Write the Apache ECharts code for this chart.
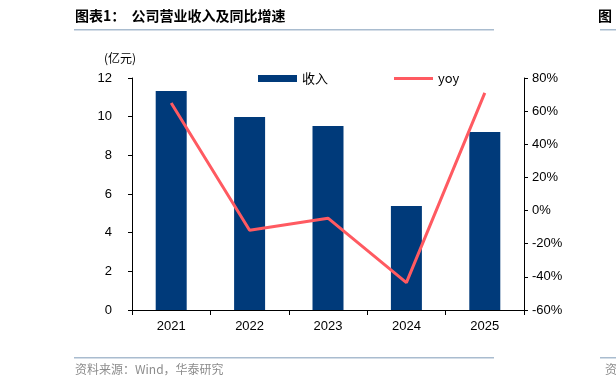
<!DOCTYPE html>
<html><head><meta charset="utf-8">
<script src="https://cdn.jsdelivr.net/npm/echarts@6/dist/echarts.min.js"></script>
<style>html,body{margin:0;padding:0;background:#fff}#c{width:616px;height:389px}</style>
</head><body><div id="c"></div>
<script>
const categories = ['2021','2022','2023','2024','2025'];
const revenue = [11.33, 9.98, 9.52, 5.38, 9.21];
const yoy = [64.9, -11.9, -4.6, -43.5, 71.0];
const leftTicks = [0, 12, 2];
const rightTicks = [-60, 80, 20];

const chart = echarts.init(document.getElementById('c'));
const font = "'Liberation Sans', Arial, sans-serif";
chart.setOption({
  animation: false,
  grid: {left: 132, right: 92, top: 78, bottom: 79},
  legend: {
    top: 67, left: 253, itemGap: 66, itemWidth: 39, itemHeight: 7,
    symbolKeepAspect: true,
    textStyle: {fontFamily: "'Noto Sans CJK SC', " + font, fontSize: 13, color: '#000'},
    data: [{name: '收入', icon: 'rect'}, {name: 'yoy', icon: 'path://M0,0 L39,0 L39,3 L0,3 Z', itemStyle: {color: '#FF5A61'}}]
  },
  xAxis: {
    type: 'category', data: categories,
    axisLine: {lineStyle: {color: '#000'}},
    axisTick: {show: true, length: 5, lineStyle:{color:'#000'}},
    axisLabel: {color: '#000', fontSize: 13, fontFamily: font, margin: 10}
  },
  yAxis: [{
    type: 'value', min: leftTicks[0], max: leftTicks[1], interval: leftTicks[2],
    axisLine: {show: true, lineStyle: {color: '#000'}},
    axisTick: {show: true, length: 4, lineStyle:{color:'#000'}},
    splitLine: {show: false},
    axisLabel: {color: '#000', fontSize: 13, fontFamily: font, margin: 20}
  }, {
    type: 'value', min: rightTicks[0], max: rightTicks[1], interval: rightTicks[2],
    axisLine: {show: true, lineStyle: {color: '#000'}},
    axisTick: {show: true, length: 4, lineStyle:{color:'#000'}},
    splitLine: {show: false},
    axisLabel: {color: '#000', fontSize: 13, fontFamily: font, margin: 8, formatter: '{value}%'}
  }],
  series: [{
    name: '收入', type: 'bar', data: revenue, barWidth: 31,
    itemStyle: {color: '#003A7A'}
  }, {
    name: 'yoy', type: 'line', yAxisIndex: 1, data: yoy,
    symbol: 'none', lineStyle: {color: '#FF5A61', width: 3}, itemStyle:{color:'#FF5A61'}
  }],
  graphic: [
    {type: 'text', left: 75, top: 9, style: {text: '图表1：  公司营业收入及同比增速', font: "bold 14px 'Noto Sans CJK SC'", fill: '#000'}},
    {type: 'text', left: 598, top: 9, style: {text: '图', font: "bold 14px 'Noto Sans CJK SC'", fill: '#000'}},
    {type: 'rect', shape: {x: 74, y: 29, width: 420, height: 1.5}, style: {fill: '#A9BCCF'}},
    {type: 'rect', shape: {x: 600, y: 29, width: 16, height: 1.5}, style: {fill: '#A9BCCF'}},
    {type: 'rect', shape: {x: 74, y: 357, width: 420, height: 1.5}, style: {fill: '#A9BCCF'}},
    {type: 'rect', shape: {x: 600, y: 357, width: 16, height: 1.5}, style: {fill: '#A9BCCF'}},
    {type: 'text', left: 75, top: 363, style: {text: '资料来源：Wind，华泰研究', font: "12px 'Noto Sans CJK SC'", fill: '#8C8C8C'}},
    {type: 'text', left: 605, top: 363, style: {text: '资', font: "12px 'Noto Sans CJK SC'", fill: '#8C8C8C'}},
    {type: 'text', left: 104, top: 52, style: {text: '(亿元)', font: "12px 'Noto Sans CJK SC'", fill: '#000'}}
  ]
});
</script></body></html>
